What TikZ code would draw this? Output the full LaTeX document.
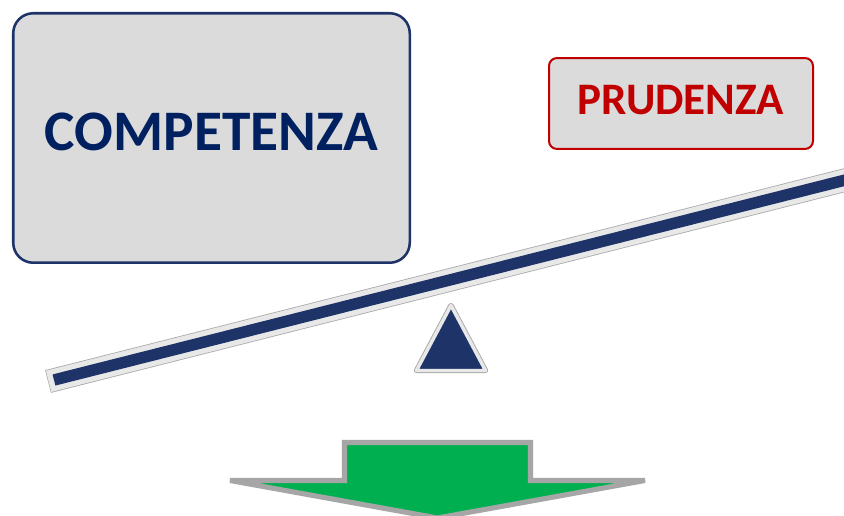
\documentclass[tikz,border=0pt]{standalone}
\usepackage{fontspec}
\setmainfont{Carlito}
\usepackage{tikz}
\definecolor{navytext}{RGB}{0,32,96}
\definecolor{navyline}{RGB}{30,52,104}
\definecolor{redline}{RGB}{192,0,0}
\definecolor{boxgray}{RGB}{219,219,219}
\definecolor{halo}{RGB}{232,232,232}
\definecolor{haloedge}{RGB}{170,170,170}
\definecolor{arrowgreen}{RGB}{0,176,80}
\definecolor{arrowedge}{RGB}{166,166,166}
\tikzset{
  bigbox/.style = {shape=rectangle, rounded corners=15pt,
                   draw=navyline, line width=1.9pt, fill=boxgray,
                   minimum width=297.4pt, minimum height=187.1pt,
                   text=navytext, font=\fontsize{43}{50}\selectfont\bfseries,
                   text depth=9.8pt, anchor=center},
  smallbox/.style = {shape=rectangle, rounded corners=6pt,
                   draw=redline, line width=1.5pt, fill=boxgray,
                   minimum width=198pt, minimum height=68.2pt,
                   text=redline, font=\fontsize{33.8}{40}\selectfont\bfseries,
                   text depth=6pt, anchor=center},
  beamedge/.style = {draw=haloedge, line width=17.6pt},
  beamhalo/.style = {draw=halo, line width=16.4pt},
  beamcore/.style = {draw=navyline, line width=8.6pt},
  bigarrow/.style = {draw=arrowedge, fill=arrowgreen, line width=3.8pt}
}
\begin{document}
\begin{tikzpicture}[x=0.75pt, y=-0.75pt]
  \clip (0,0) rectangle (844,516);
  \fill[white] (0,0) rectangle (844,516);

  \node (comp) [bigbox] at (211.5,138) {COMPETENZA};
  \node (prud) [smallbox] at (681,103.5) {PRUDENZA};

  \coordinate (beamL) at (48,381.5);
  \coordinate (beamA) at (54,380);
  \coordinate (beamB) at (870,173.8);
  \draw [beamedge] (beamL) -- (beamB);
  \draw [beamhalo, shorten <=0.5pt] (beamL) -- (beamB);
  \draw [beamcore] (beamA) -- (beamB);

  \filldraw [draw=haloedge, fill=haloedge, line width=4pt, line join=round]
    (451,305.5) -- (485.5,370.5) -- (416.5,370.5) -- cycle;
  \filldraw [draw=halo, fill=navyline, line width=2.6pt, line join=round]
    (451,305.5) -- (485.5,370.5) -- (416.5,370.5) -- cycle;

  \filldraw [bigarrow]
    (344.5,442.5) -- (530.5,442.5) -- (530.5,480.5) -- (645,480.5)
    -- (437.5,518) -- (230,480.5) -- (344.5,480.5) -- cycle;
\end{tikzpicture}
\end{document}
